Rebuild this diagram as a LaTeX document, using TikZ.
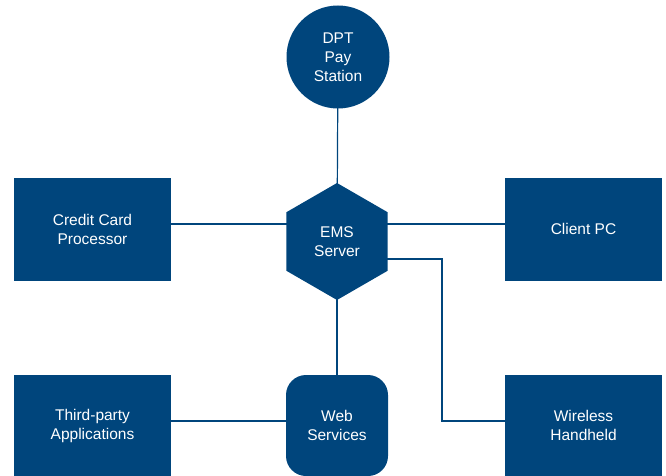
\documentclass[tikz,border=0pt]{standalone}
\usepackage{fontspec}
\setmainfont{Liberation Sans}
\usetikzlibrary{shapes.geometric,backgrounds}
\definecolor{navy}{RGB}{0,69,124}
\begin{document}
\begin{tikzpicture}[x=1pt,y=-1pt,
  lbl/.style={text=white,font=\fontsize{15.5}{19}\selectfont,align=center,inner sep=0pt},
  box/.style={lbl,fill=navy,minimum width=157pt,minimum height=103pt},
  conn/.style={draw=navy,line width=1.2pt}]
\useasboundingbox (0,0) rectangle (666,476);
\node[lbl,circle,fill=navy,minimum size=103pt] (dpt) at (338,57) {DPT\\Pay\\Station};
\node[lbl,regular polygon,regular polygon sides=6,shape border rotate=90,fill=navy,minimum size=117pt] (ems) at (337,241.5) {EMS\\Server};
\node[box] (cc) at (92.5,229) {Credit Card\\Processor};
\node[box] (pc) at (583.5,229) {Client PC};
\node[box,minimum height=101pt] (tp) at (92.5,425.5) {Third-party\\Applications};
\node[box,minimum height=101pt] (wh) at (583.5,425.5) {Wireless\\Handheld};
\node[lbl,fill=navy,rounded corners=20pt,minimum width=102pt,minimum height=101pt] (ws) at (337,425.5) {Web\\Services};
\coordinate (bend) at (442,421);
\begin{scope}[on background layer]
\draw[conn] (dpt.center) -- (ems.center);
\draw[conn] (ems.center) -- (ws.center);
\draw[conn] ([yshift=5pt]cc.east) -- ([yshift=5pt]cc.east -| ems.center);
\draw[conn] ([yshift=5pt]pc.west) -- ([yshift=5pt]pc.west -| ems.center);
\draw[conn] ([yshift=-17.5pt]ems.center) -| (bend) -- (bend -| wh.west);
\draw[conn] ([yshift=4.5pt]tp.east) -- ([yshift=4.5pt]tp.east -| ws.center);
\end{scope}
\end{tikzpicture}
\end{document}
